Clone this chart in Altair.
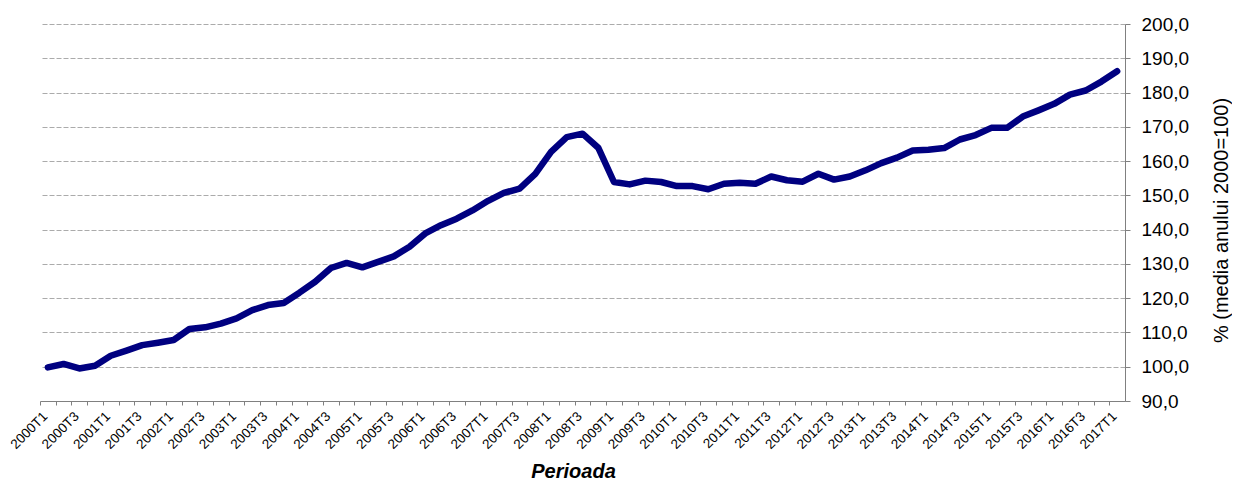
import altair as alt
import pandas as pd

quarters = [f"{y}T{q}" for y in range(2000, 2017) for q in range(1, 5)] + ["2017T1"]

index_values = [
    99.8, 100.8, 99.5, 100.3, 103.2, 104.7, 106.3, 107.0,
    107.8, 111.0, 111.5, 112.6, 114.1, 116.5, 118.0, 118.6,
    121.6, 124.8, 128.8, 130.3, 129.0, 130.6, 132.2, 135.0,
    138.9, 141.3, 143.2, 145.6, 148.4, 150.7, 152.0, 156.3,
    162.7, 167.0, 168.0, 163.9, 153.9, 153.2, 154.3, 153.9,
    152.7, 152.7, 151.8, 153.4, 153.7, 153.4, 155.5, 154.4,
    154.0, 156.3, 154.6, 155.5, 157.3, 159.4, 161.0, 163.1,
    163.3, 163.8, 166.3, 167.6, 169.7, 169.7, 173.0, 174.8,
    176.7, 179.4, 180.6, 183.2, 186.2,
]

y_ticks = [90, 100, 110, 120, 130, 140, 150, 160, 170, 180, 190, 200]

df = pd.DataFrame({"perioada": quarters, "valoare": index_values})

FONT = "Liberation Sans"
W, H = 1085, 377
step = W / len(quarters)

chart = (
    alt.Chart(df)
    .mark_line(color="#000080", strokeWidth=6.5, strokeCap="round", strokeJoin="round")
    .encode(
        x=alt.X(
            "perioada:N",
            sort=quarters,
            scale=alt.Scale(type="point", padding=0.5),
            axis=alt.Axis(
                values=quarters,
                labelExpr="(indexof(datum.value, 'T2') >= 0 || indexof(datum.value, 'T4') >= 0) ? '' : datum.value",
                labelAngle=-45,
                labelOverlap=False,
                labelFontSize=13.5,
                labelColor="#000000",
                labelPadding=4,
                tickOffset=-step / 2,
                tickSize=4,
                tickColor="#808080",
                domainColor="#808080",
                grid=False,
                title="Perioada",
                titleFontSize=20,
                titleFontWeight="bold",
                titleFontStyle="italic",
                titleColor="#000000",
                titleX=533,
                titleY=76,
                titleBaseline="alphabetic",
                titleAlign="center",
            ),
        ),
        y=alt.Y(
            "valoare:Q",
            scale=alt.Scale(domain=[90, 200], nice=False, zero=False),
            axis=alt.Axis(
                orient="right",
                values=y_ticks,
                format=".1f",
                labelExpr="replace(datum.label, '.', ',')",
                labelFontSize=19,
                labelColor="#000000",
                labelPadding=11,
                tickSize=5,
                tickColor="#808080",
                domainColor="#808080",
                grid=True,
                gridDash=[5, 2],
                gridColor="#ababab",
                title="% (media anului 2000=100)",
                titleAngle=270,
                titleFontSize=20,
                titleFontWeight="normal",
                titleColor="#000000",
                titleX=96,
                titleY=196,
                titleBaseline="middle",
                titleAlign="center",
            ),
        ),
    )
    .properties(
        width=W,
        height=H,
        autosize=alt.AutoSizeParams(type="none"),
        padding={"left": 32, "top": 16, "right": 107, "bottom": 82},
    )
    .configure(font=FONT)
    .configure_view(stroke=None)
)

chart.save("out.html", embed_options={"renderer": "svg", "actions": False})
